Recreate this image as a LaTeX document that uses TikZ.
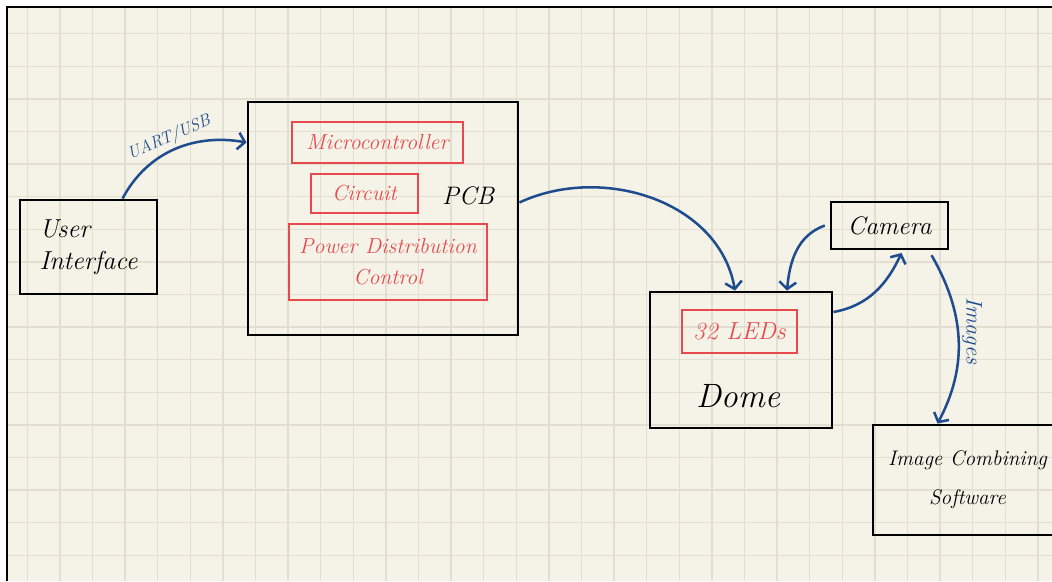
\documentclass[tikz,border=0pt]{standalone}
\usepackage{xcolor}
\usetikzlibrary{calc,arrows.meta}

\definecolor{paper}{HTML}{F5F3E7}
\definecolor{gridline}{HTML}{E2DFD2}
\definecolor{inkblue}{HTML}{1F4C8F}
\definecolor{inkred}{HTML}{E8494C}

\begin{document}
\begin{tikzpicture}[x=0.025cm, y=0.025cm,
  blk/.style={draw=black, line width=2pt, inner sep=0pt, font=\fontsize{18}{22}\selectfont\itshape},
  redblk/.style={draw=inkred, text=inkred, line width=1.4pt, inner sep=0pt, font=\fontsize{15.5}{22}\selectfont\itshape},
  wire/.style={inkblue, line width=1.8pt, -{Straight Barb[length=5pt,width=12pt]}},
  tag/.style={text=inkblue, inner sep=2pt, font=\fontsize{12}{14}\selectfont\itshape}]
\useasboundingbox (0,0) rectangle (1052,-581);
\fill[white] (0,0) rectangle (1052,-581);
% squared paper
\fill[paper] (7,-7) rectangle (1052,-581);
\foreach \gx in {0,...,31} \draw[gridline, line width=0.9pt] ({27.3+32.6*\gx},-7) -- ({27.3+32.6*\gx},-581);
\foreach \gy in {1,...,17} \draw[gridline, line width=0.9pt] (7,{-1.1-32.6*\gy}) -- (1052,{-1.1-32.6*\gy});
\draw[line width=1.6pt] (7,-581) -- (7,-7) -- (1052,-7);

\node[blk, minimum width=3.425cm, minimum height=2.35cm, align=left, font=\fontsize{18.5}{23}\selectfont\itshape] (ui) at (88.5,-247) {User\\Interface};

% board with its parts
\node[blk, minimum width=6.75cm, minimum height=5.825cm] (pcb) at (383,-218.5) {};
\node[redblk, minimum width=4.275cm, minimum height=1.025cm] (mcu) at (377.5,-142.5) {Microcontroller};
\node[redblk, minimum width=2.675cm, minimum height=0.975cm] (circ) at (364.5,-193.5) {Circuit};
\node[redblk, minimum width=4.95cm, minimum height=1.9cm, align=center] (power) at (388,-262) {Power Distribution\\Control};
\node[font=\fontsize{18}{20}\selectfont\itshape] (pcbname) at (468,-196) {PCB};

% dome
\node[blk, minimum width=4.55cm, minimum height=3.4cm] (dome) at (741,-360) {};
\node[redblk, minimum width=2.875cm, minimum height=1.075cm, font=\fontsize{17.5}{20}\selectfont\itshape] (leds) at (739.5,-331.5) {32 LEDs};
\node[font=\fontsize{24}{26}\selectfont\itshape] (domename) at (738,-396) {Dome};

\node[blk, minimum width=2.925cm, minimum height=1.175cm] (cam) at (889.5,-225.5) {Camera};
\node[blk, minimum width=4.725cm, minimum height=2.75cm, align=center, font=\fontsize{15}{28}\selectfont\itshape] (soft) at (967.5,-480) {Image Combining\\Software};

\draw[wire] ([xshift=0.85cm]ui.north) to[out=62,in=170] node[tag, midway, sloped, above] {UART/USB} ([yshift=1.9cm]pcb.west);
\draw[wire] ([yshift=0.4cm]pcb.east) to[out=25,in=100] ([xshift=-0.15cm]dome.north);
\draw[wire] ([xshift=-0.12cm]cam.west) to[out=200,in=85] ([xshift=1.15cm]dome.north);
\draw[wire, shorten >=2pt] ([yshift=1.2cm]dome.east) to[out=10,in=245] ([xshift=0.33cm]cam.south);
\draw[wire] ([xshift=1.05cm, yshift=-0.12cm]cam.south) to[out=-60,in=62] node[tag, pos=0.45, anchor=south, rotate=-90, font=\fontsize{16}{18}\selectfont\itshape] {Images} ([xshift=-0.75cm]soft.north);
\end{tikzpicture}
\end{document}
